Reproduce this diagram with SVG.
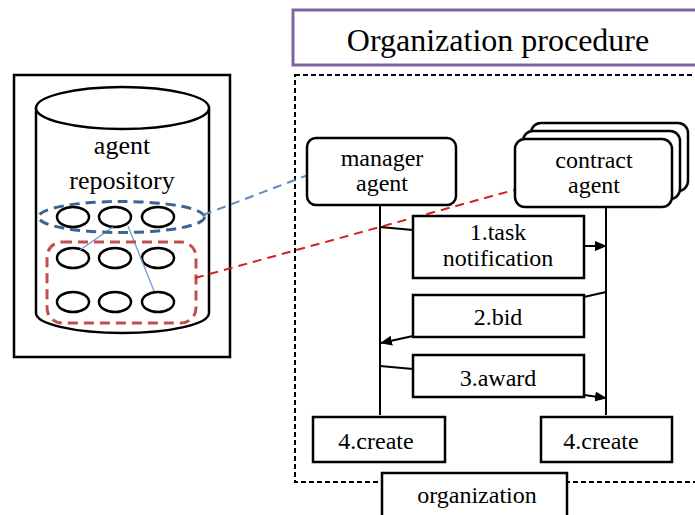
<svg xmlns="http://www.w3.org/2000/svg" width="695" height="515" viewBox="0 0 695 515">
  <style>
    text { font-family: "Liberation Serif", "DejaVu Serif", "Times New Roman", serif; fill: #000; text-anchor: middle; }
    .box { fill: #fff; stroke: #000; stroke-width: 2.5; }
    .line { fill: none; stroke: #000; stroke-width: 2; }
    .cell { fill: #fff; stroke: #000; stroke-width: 2.5; }
  </style>
  <defs>
    <marker id="ah" viewBox="0 0 12 10" refX="11" refY="5" markerWidth="12" markerHeight="10" orient="auto" markerUnits="userSpaceOnUse">
      <path d="M0,0 L12,5 L0,10 z" fill="#000"/>
    </marker>
  </defs>
  <rect width="695" height="515" fill="#fff"/>

  <!-- agent repository -->
  <g id="repository">
    <rect x="14" y="75" width="216" height="282" fill="#fff" stroke="#000" stroke-width="2.5"/>
    <path d="M36,108 L36,313 A86.5,20 0 0 0 209,313 L209,108" fill="#fff" stroke="#000" stroke-width="2.5"/>
    <ellipse cx="122.5" cy="108" rx="86.5" ry="21" fill="#fff" stroke="#000" stroke-width="2.5"/>
    <text x="122" y="154" font-size="26">agent</text>
    <text x="122" y="189" font-size="26">repository</text>
    <g id="agents">
      <ellipse class="cell" cx="73" cy="217" rx="16" ry="10"/>
      <ellipse class="cell" cx="115" cy="217" rx="16" ry="10"/>
      <ellipse class="cell" cx="158" cy="217" rx="16" ry="10"/>
      <ellipse class="cell" cx="73" cy="258" rx="16" ry="10"/>
      <ellipse class="cell" cx="115" cy="258" rx="16" ry="10"/>
      <ellipse class="cell" cx="158" cy="258" rx="16" ry="10"/>
      <ellipse class="cell" cx="73" cy="302" rx="16" ry="10"/>
      <ellipse class="cell" cx="115" cy="302" rx="16" ry="10"/>
      <ellipse class="cell" cx="158" cy="302" rx="16" ry="10"/>
    </g>
    <line x1="113" y1="227" x2="80" y2="250" stroke="#6f9bd1" stroke-width="1.3"/>
    <line x1="128" y1="226" x2="154" y2="291" stroke="#6f9bd1" stroke-width="1.3"/>
    <ellipse cx="121.5" cy="217" rx="83" ry="15.5" fill="none" stroke="#3d6491" stroke-width="3" stroke-dasharray="10,6"/>
    <rect x="47" y="242" width="149" height="81" rx="15" fill="none" stroke="#c0504d" stroke-width="3" stroke-dasharray="10,6"/>
  </g>

  <!-- organization procedure frame -->
  <g id="frame">
    <rect x="295" y="75" width="410" height="407" fill="none" stroke="#000" stroke-width="2" stroke-dasharray="5,3"/>
  </g>
  <g id="title">
    <rect x="293" y="10" width="410" height="55" fill="#fff" stroke="#8064a2" stroke-width="3"/>
    <text x="498" y="51" font-size="32">Organization procedure</text>
  </g>

  <!-- connectors -->
  <g id="connectors">
    <line x1="203" y1="215" x2="308" y2="175" stroke="#5b8cc6" stroke-width="2" stroke-dasharray="9,6"/>
    <line x1="195" y1="278" x2="514" y2="190" stroke="#d42020" stroke-width="2" stroke-dasharray="9,6"/>
    <line class="line" x1="380" y1="205" x2="380" y2="415"/>
    <line class="line" x1="606" y1="207" x2="606" y2="415"/>
    <line class="line" x1="380" y1="227" x2="413" y2="230"/>
    <line class="line" x1="584" y1="246" x2="606" y2="246" marker-end="url(#ah)"/>
    <line class="line" x1="606" y1="292" x2="584" y2="297"/>
    <line class="line" x1="413" y1="336" x2="381" y2="343" marker-end="url(#ah)"/>
    <line class="line" x1="380" y1="366" x2="413" y2="369"/>
    <line class="line" x1="584" y1="395" x2="606" y2="398" marker-end="url(#ah)"/>
  </g>

  <g id="manager">
    <rect class="box" x="307" y="138" width="149" height="67" rx="9"/>
    <text x="382" y="166" font-size="24">manager</text>
    <text x="382" y="191" font-size="24">agent</text>
  </g>

  <g id="contract">
    <rect class="box" x="531" y="123" width="157" height="68" rx="10"/>
    <rect class="box" x="523" y="131" width="157" height="68" rx="10"/>
    <rect class="box" x="515" y="139" width="157" height="68" rx="10"/>
    <text x="594" y="168" font-size="24">contract</text>
    <text x="594" y="193" font-size="24">agent</text>
  </g>

  <g id="msg1">
    <rect class="box" x="413" y="216" width="171" height="62"/>
    <text x="498" y="240" font-size="24">1.task</text>
    <text x="498" y="266" font-size="24">notification</text>
  </g>

  <g id="msg2">
    <rect class="box" x="413" y="295" width="171" height="42"/>
    <text x="498" y="325" font-size="24">2.bid</text>
  </g>

  <g id="msg3">
    <rect class="box" x="413" y="355" width="171" height="42"/>
    <text x="498" y="386" font-size="24">3.award</text>
  </g>

  <g id="create-manager">
    <rect class="box" x="313" y="417" width="132" height="45"/>
    <text x="376" y="449" font-size="24">4.create</text>
  </g>

  <g id="create-contract">
    <rect class="box" x="541" y="417" width="131" height="45"/>
    <text x="601" y="449" font-size="24">4.create</text>
  </g>

  <g id="organization">
    <rect class="box" x="382" y="473" width="185" height="60"/>
    <text x="477" y="503" font-size="24">organization</text>
  </g>
</svg>
